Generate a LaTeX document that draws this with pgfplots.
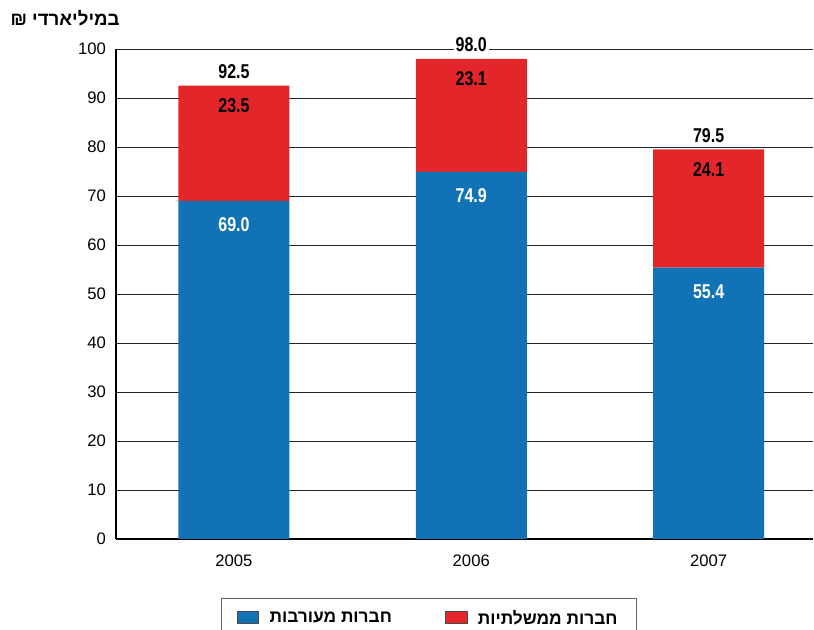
\documentclass[border=0pt]{standalone}
\usepackage{fontspec}
\setmainfont{Liberation Sans}
\newfontfamily\hebfont[Script=Hebrew]{Liberation Sans}
\newfontfamily\lblfont{Liberation Sans}[FakeStretch=0.8]
\TeXXeTstate=1
\usepackage{pgfplots}
\pgfplotsset{compat=1.18}
\definecolor{mixblue}{HTML}{1172B6}
\definecolor{govred}{HTML}{E2262A}

% shared frame for the bar axis and the label overlay
\pgfplotsset{frame/.style={
  at={(0,0)}, anchor=south west,
  scale only axis, width=522.75pt, height=367.5pt,
  xmin=-0.497, xmax=2.44, ymin=0, ymax=100, clip=false}}

\begin{document}
\begin{tikzpicture}
\useasboundingbox (-87pt,-68.25pt) rectangle (523.5pt,404.25pt);
\begin{axis}[frame,
  ybar stacked, bar width=83.25pt,
  xtick={0,1,2}, xticklabels={2005,2006,2007},
  ytick={0,10,...,100},
  axis x line*=bottom, axis y line*=left,
  axis line style={black, line width=0.8pt, -},
  major tick length=0pt,
  ymajorgrids, grid style={black!85, line width=0.6pt},
  tick label style={font=\fontsize{12.5}{14}\selectfont},
  /pgf/number format/assume math mode=true,
  xticklabel style={yshift=-8pt},
  yticklabel style={xshift=-4pt},
  legend columns=2,
  legend style={at={(axis description cs:0.15,-0.1204)}, anchor=north west,
    draw=black!60, line width=0.6pt,
    font=\hebfont\bfseries\fontsize{13}{15}\selectfont,
    /tikz/every odd column/.append style={column sep=6pt},
    /tikz/every even column/.append style={column sep=38pt},
    inner xsep=12pt, inner ysep=7pt},
  legend image code/.code={\draw[#1,draw=black!70,line width=0.5pt] (0pt,-4pt) rectangle (16pt,5pt);},
]
\addplot[fill=mixblue, draw=none]
  coordinates {(0,69.0) (1,74.9) (2,55.4)};
\addplot[fill=govred, draw=none]
  coordinates {(0,23.5) (1,23.1) (2,24.1)};
\legend{{\beginR חברות מעורבות\endR},{\beginR חברות ממשלתיות\endR}}
\node[anchor=east, font=\hebfont\bfseries\fontsize{14}{16}\selectfont]
  at (rel axis cs:0.012,1.0633) {\beginR במיליארדי ₪\endR};
\end{axis}
\begin{axis}[frame, hide axis,
  point meta=explicit symbolic,
  every node near coord/.append style={font=\lblfont\bfseries\fontsize{15}{17}\selectfont, anchor=center},
]
\addplot[draw=none, nodes near coords,
  every node near coord/.append style={text=white, yshift=-18pt}]
  coordinates {(0,69.0) [69.0] (1,74.9) [74.9] (2,55.4) [55.4]};
\addplot[draw=none, nodes near coords,
  every node near coord/.append style={text=black, yshift=-15pt}]
  coordinates {(0,92.5) [23.5] (1,98.0) [23.1] (2,79.5) [24.1]};
\addplot[draw=none, nodes near coords,
  every node near coord/.append style={text=black, fill=white, inner sep=1.5pt, yshift=10.5pt}]
  coordinates {(0,92.5) [92.5] (1,98.0) [98.0] (2,79.5) [79.5]};
\end{axis}
\end{tikzpicture}
\end{document}
